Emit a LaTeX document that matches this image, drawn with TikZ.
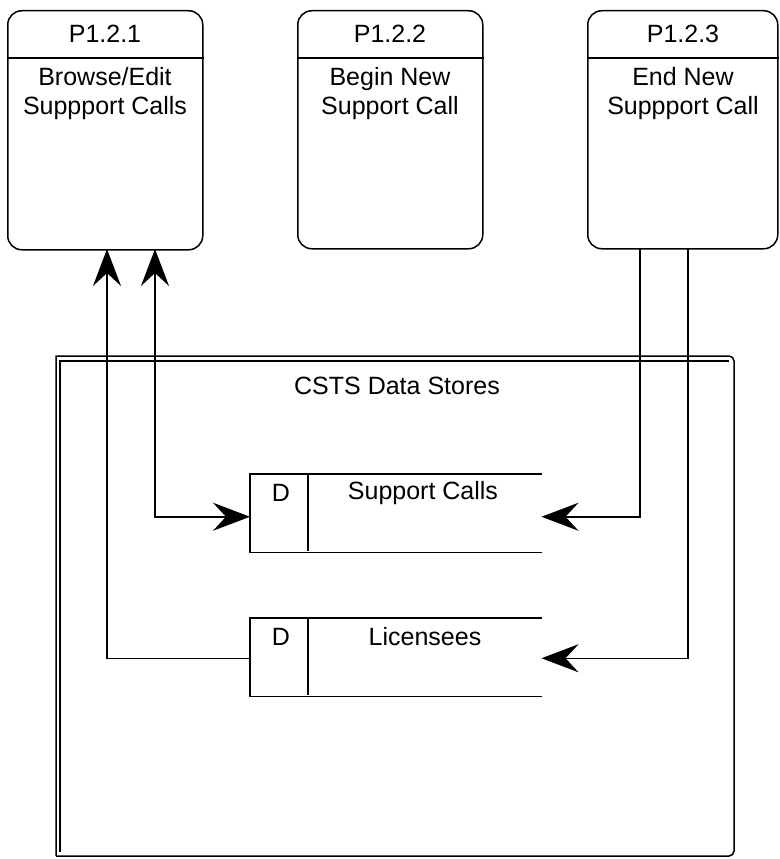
\documentclass[tikz,border=0pt]{standalone}
\usepackage{fontspec}
\setmainfont{Liberation Sans}
\usetikzlibrary{arrows.meta}
\begin{document}
\begin{tikzpicture}[x=1pt,y=-1pt,
  line width=1.5pt,
  every node/.style={font=\fontsize{25}{29}\selectfont, inner sep=0pt},
  proc/.style={draw, rounded corners=14pt, anchor=north west},
  stored/.style={anchor=north west, minimum width=290pt, minimum height=77pt},
  flow/.style={-{Stealth[length=37pt,width=28pt,inset=13pt]}},
  biflow/.style={{Stealth[length=37pt,width=28pt,inset=13pt]}-{Stealth[length=37pt,width=28pt,inset=13pt]}},
  lbl/.style={align=center}
]
\useasboundingbox (0,0) rectangle (779,859);

% process boxes
\node[proc, minimum width=195pt, minimum height=239pt] (p1) at (7,10) {};
\node[proc, minimum width=185pt, minimum height=238pt] (p2) at (297,10) {};
\node[proc, minimum width=190pt, minimum height=238pt] (p3) at (587,10) {};
\draw (p1.west |- 0,58) -- (p1.east |- 0,58);
\draw (p2.west |- 0,58) -- (p2.east |- 0,58);
\draw (p3.west |- 0,58) -- (p3.east |- 0,58);
\node[lbl] (t1) at (105,34) {P1.2.1};
\node[lbl] (t2) at (390,34) {P1.2.2};
\node[lbl] (t3) at (683,34) {P1.2.3};
\node[lbl, anchor=north] (d1) at (105,67) {Browse/Edit\\Suppport Calls};
\node[lbl, anchor=north] (d2) at (390,67) {Begin New\\Support Call};
\node[lbl, anchor=north] (d3) at (683,67) {End New\\Suppport Call};

% outer data store container
\draw (56,856) -- (56,356) -- (729,356) [rounded corners=5pt] -- (734,356) -- (734,856) -- (56,856);
\draw (60,852) -- (60,361) -- (729,361);
\node[lbl] (cs) at (397,386) {CSTS Data Stores};

% data stores
\node[stored] (sc) at (250,474) {};
\draw (sc.north east) -- (sc.north west) -- (sc.south west) -- (sc.south east);
\draw (308,474) -- (308,551);
\node (scd) at (281,493) {D};
\node (scn) at (423,493) {Support Calls};

\node[stored] (li) at (250,618) {};
\draw (li.north east) -- (li.north west) -- (li.south west) -- (li.south east);
\draw (308,618) -- (308,695);
\node (lid) at (281,637) {D};
\node (lin) at (425,637) {Licensees};

% connection points
\coordinate (p1a) at (107,249);
\coordinate (p1b) at (155,249);
\coordinate (p3a) at (640,248);
\coordinate (p3b) at (688,248);

% connectors
\draw[biflow] ([yshift=-3.5pt]sc.west) -| (p1b);
\draw[flow] ([yshift=-1pt]li.west) -| (p1a);
\draw[flow] (p3a) |- ([yshift=-3.5pt]sc.east);
\draw[flow] (p3b) |- ([yshift=-1pt]li.east);
\end{tikzpicture}
\end{document}
